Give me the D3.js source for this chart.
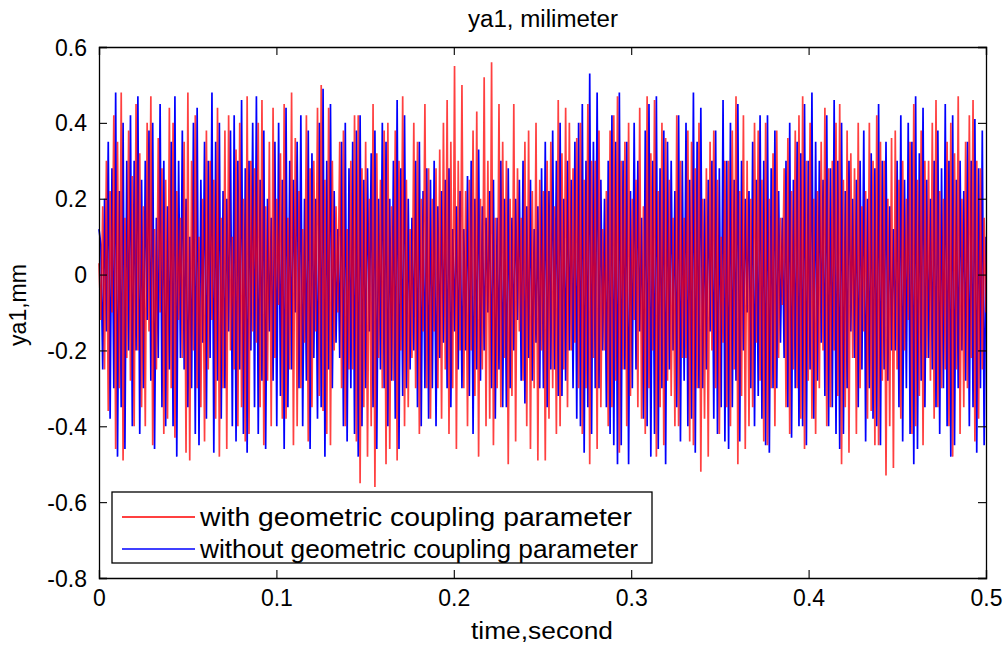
<!DOCTYPE html>
<html>
<head>
<meta charset="utf-8">
<script src="https://cdn.jsdelivr.net/npm/d3@7"></script>
<style>
  html, body { margin: 0; padding: 0; background: #fff; }
  svg { display: block; }
  text { font-family: "Liberation Sans", Arial, sans-serif; fill: #000; }
</style>
</head>
<body>
<svg id="chart" width="1008" height="648"></svg>
<script>
// ---- data (estimated where strokes overlap) ----
const title = "ya1, milimeter";
const xLabel = "time,second";
const yLabel = "ya1,mm";
const seriesNames = ["with geometric coupling parameter", "without geometric coupling parameter"];
const xTicks = [0, 0.1, 0.2, 0.3, 0.4, 0.5];
const yTicks = [0.6, 0.4, 0.2, 0, -0.2, -0.4, -0.6, -0.8];
const tEnd = 0.5;

// with geometric coupling parameter (red)
const withCoupling = [
  0.03,-0.12, 0.18,-0.25, 0.30,-0.36, 0.22,-0.10, 0.42,-0.46, 0.35,-0.30, 0.48,-0.49, 0.15,-0.22, 0.38,-0.28, 0.26,-0.40,
  0.45,-0.20, 0.32,-0.35, 0.18,-0.40, 0.40,-0.15, 0.47,-0.45, 0.12,-0.25, 0.36,-0.10, 0.28,-0.42, 0.25,-0.38, 0.44,-0.30,
  0.40,-0.43, 0.22,-0.12, 0.15,-0.22, 0.35,-0.47, 0.48,-0.49, 0.30,-0.20, 0.42,-0.30, 0.10,-0.35, 0.20,-0.44, 0.38,-0.25,
  0.30,-0.12, 0.25,-0.38, 0.44,-0.48, 0.15,-0.30, 0.38,-0.46, 0.42,-0.20, 0.10,-0.25, 0.33,-0.40, 0.40,-0.35, 0.20,-0.44,
  0.47,-0.42, 0.30,-0.15, 0.28,-0.18, 0.40,-0.35, 0.46,-0.45, 0.18,-0.28, 0.35,-0.40, 0.44,-0.22, 0.20,-0.08, 0.32,-0.38,
  0.45,-0.38, 0.15,-0.25, 0.48,-0.45, 0.36,-0.40, 0.22,-0.30, 0.12,-0.18, 0.42,-0.44, 0.28,-0.35, 0.30,-0.15, 0.44,-0.32,
  0.50,-0.36, 0.25,-0.42, 0.44,-0.45, 0.30,-0.20, 0.18,-0.10, 0.35,-0.30, 0.38,-0.40, 0.12,-0.25, 0.30,-0.25, 0.42,-0.44,
  0.42,-0.55, 0.28,-0.35, 0.35,-0.48, 0.20,-0.40, 0.45,-0.56, 0.32,-0.22, 0.25,-0.30, 0.38,-0.50, 0.40,-0.46, 0.18,-0.28,
  0.38,-0.49, 0.30,-0.20, 0.47,-0.40, 0.25,-0.35, 0.12,-0.22, 0.40,-0.30, 0.35,-0.42, 0.20,-0.15, 0.45,-0.30, 0.28,-0.38,
  0.20,-0.15, 0.28,-0.30, 0.33,-0.38, 0.40,-0.25, 0.46,-0.42, 0.35,-0.30, 0.55,-0.46, 0.30,-0.20, 0.50,-0.30, 0.22,-0.40,
  0.25,-0.20, 0.38,-0.32, 0.43,-0.48, 0.20,-0.25, 0.52,-0.40, 0.30,-0.38, 0.56,-0.45, 0.15,-0.30, 0.45,-0.35, 0.35,-0.22,
  0.30,-0.50, 0.20,-0.32, 0.45,-0.44, 0.28,-0.15, 0.15,-0.28, 0.35,-0.40, 0.38,-0.46, 0.22,-0.30, 0.40,-0.49, 0.25,-0.20,
  0.22,-0.49, 0.30,-0.38, 0.35,-0.30, 0.18,-0.42, 0.46,-0.40, 0.32,-0.25, 0.44,-0.35, 0.40,-0.20, 0.28,-0.18, 0.36,-0.30,
  0.40,-0.42, 0.25,-0.30, 0.45,-0.50, 0.30,-0.22, 0.30,-0.46, 0.38,-0.35, 0.12,-0.20, 0.22,-0.40, 0.38,-0.35, 0.42,-0.28,
  0.47,-0.47, 0.30,-0.25, 0.35,-0.40, 0.40,-0.32, 0.20,-0.12, 0.25,-0.35, 0.44,-0.38, 0.18,-0.42, 0.47,-0.30, 0.32,-0.20,
  0.46,-0.48, 0.22,-0.35, 0.40,-0.45, 0.36,-0.28, 0.25,-0.32, 0.15,-0.40, 0.42,-0.40, 0.30,-0.22, 0.15,-0.22, 0.38,-0.44,
  0.35,-0.45, 0.28,-0.30, 0.40,-0.52, 0.20,-0.38, 0.28,-0.48, 0.35,-0.20, 0.38,-0.30, 0.25,-0.42, 0.10,-0.18, 0.30,-0.35,
  0.30,-0.40, 0.38,-0.25, 0.47,-0.50, 0.22,-0.32, 0.42,-0.46, 0.30,-0.40, 0.20,-0.35, 0.40,-0.18, 0.38,-0.28, 0.25,-0.44,
  0.40,-0.45, 0.20,-0.30, 0.32,-0.40, 0.38,-0.22, 0.15,-0.08, 0.28,-0.35, 0.36,-0.42, 0.22,-0.25, 0.38,-0.30, 0.42,-0.38,
  0.47,-0.46, 0.30,-0.28, 0.40,-0.38, 0.20,-0.42, 0.22,-0.30, 0.35,-0.20, 0.44,-0.40, 0.28,-0.35, 0.30,-0.20, 0.40,-0.32,
  0.45,-0.50, 0.25,-0.35, 0.38,-0.47, 0.32,-0.22, 0.28,-0.42, 0.40,-0.30, 0.18,-0.15, 0.22,-0.38, 0.40,-0.36, 0.30,-0.45,
  0.42,-0.45, 0.35,-0.28, 0.30,-0.53, 0.20,-0.40, 0.36,-0.51, 0.38,-0.25, 0.25,-0.38, 0.30,-0.20, 0.20,-0.12, 0.35,-0.42,
  0.45,-0.40, 0.25,-0.32, 0.38,-0.45, 0.30,-0.22, 0.30,-0.28, 0.40,-0.38, 0.46,-0.35, 0.22,-0.30, 0.20,-0.25, 0.35,-0.40,
  0.40,-0.48, 0.32,-0.25, 0.47,-0.42, 0.20,-0.35, 0.35,-0.30, 0.42,-0.22, 0.46,-0.44, 0.30,-0.38, 0.28,-0.25, 0.15,-0.10
];

// without geometric coupling parameter (blue)
const withoutCoupling = [
  0.12, 0.08,-0.25, 0.20,-0.15, 0.35,-0.38, 0.28,-0.30, 0.48,-0.48, 0.22,-0.35, 0.40,-0.46, 0.30,-0.20, 0.42,-0.40, 0.30,
  -0.20, 0.47,-0.42, 0.25,-0.30, 0.30,-0.12, 0.38,-0.28, 0.40,-0.46, 0.15,-0.22, 0.45,-0.35, 0.30,-0.40, 0.18,-0.25, 0.35,
  -0.40, 0.47,-0.48, 0.30,-0.22, 0.38,-0.25, 0.20,-0.35, 0.10,-0.30, 0.40,-0.42, 0.44,-0.45, 0.25,-0.18, 0.35,-0.38, 0.30,
  -0.22, 0.48,-0.47, 0.35,-0.28, 0.40,-0.38, 0.22,-0.30, 0.20,-0.15, 0.38,-0.40, 0.42,-0.44, 0.30,-0.25, 0.46,-0.42, 0.28,
  -0.47, 0.30,-0.20, 0.40,-0.35, 0.47,-0.42, 0.25,-0.28, 0.38,-0.46, 0.20,-0.15, 0.15,-0.28, 0.35,-0.40, 0.40,-0.32, 0.25,
  -0.46, 0.44,-0.35, 0.30,-0.25, 0.25,-0.10, 0.35,-0.30, 0.42,-0.40, 0.20,-0.28, 0.38,-0.46, 0.32,-0.22, 0.20,-0.38, 0.40,
  -0.35, 0.49,-0.48, 0.30,-0.25, 0.45,-0.30, 0.22,-0.18, 0.12,-0.22, 0.35,-0.40, 0.40,-0.44, 0.28,-0.30, 0.35,-0.42, 0.38,
  -0.48, 0.42,-0.40, 0.25,-0.30, 0.28,-0.15, 0.32,-0.35, 0.38,-0.46, 0.20,-0.25, 0.40,-0.30, 0.35,-0.40, 0.20,-0.28, 0.30,
  -0.38, 0.46,-0.46, 0.28,-0.32, 0.42,-0.30, 0.20,-0.25, 0.15,-0.20, 0.30,-0.35, 0.35,-0.40, 0.22,-0.30, 0.28,-0.38, 0.25,
  -0.30, 0.30,-0.40, 0.18,-0.22, 0.22,-0.18, 0.25,-0.30, 0.28,-0.35, 0.12,-0.15, 0.18,-0.25, 0.22,-0.30, 0.12,-0.20, 0.26,
  -0.32, 0.30,-0.42, 0.20,-0.25, 0.33,-0.28, 0.18,-0.20, 0.15,-0.10, 0.22,-0.30, 0.25,-0.38, 0.15,-0.25, 0.30,-0.35, 0.20,
  -0.35, 0.28,-0.30, 0.15,-0.20, 0.20,-0.12, 0.25,-0.28, 0.30,-0.34, 0.18,-0.22, 0.25,-0.28, 0.12,-0.18, 0.18,-0.30, 0.28,
  -0.30, 0.35,-0.35, 0.22,-0.25, 0.38,-0.25, 0.30,-0.32, 0.40,-0.32, 0.20,-0.28, 0.30,-0.20, 0.25,-0.30, 0.35,-0.38, 0.40,
  -0.40, 0.45,-0.47, 0.30,-0.35, 0.53,-0.42, 0.35,-0.30, 0.48,-0.30, 0.25,-0.20, 0.20,-0.35, 0.30,-0.42, 0.42,-0.45, 0.35,
  -0.50, 0.48,-0.45, 0.30,-0.25, 0.35,-0.50, 0.22,-0.30, 0.40,-0.25, 0.30,-0.15, 0.15,-0.38, 0.38,-0.40, 0.45,-0.48, 0.30,
  -0.42, 0.47,-0.46, 0.28,-0.30, 0.38,-0.50, 0.35,-0.25, 0.30,-0.20, 0.22,-0.35, 0.42,-0.44, 0.30,-0.28, 0.40,-0.40, 0.25,
  -0.38, 0.48,-0.47, 0.35,-0.30, 0.44,-0.30, 0.20,-0.25, 0.25,-0.15, 0.30,-0.38, 0.38,-0.42, 0.28,-0.35, 0.46,-0.44, 0.30,
  -0.46, 0.40,-0.35, 0.25,-0.28, 0.45,-0.44, 0.30,-0.20, 0.20,-0.10, 0.22,-0.30, 0.35,-0.40, 0.25,-0.32, 0.42,-0.38, 0.30,
  -0.45, 0.42,-0.47, 0.28,-0.30, 0.38,-0.30, 0.22,-0.18, 0.15,-0.22, 0.30,-0.35, 0.40,-0.43, 0.25,-0.30, 0.35,-0.40, 0.32,
  -0.40, 0.45,-0.45, 0.30,-0.25, 0.48,-0.38, 0.35,-0.28, 0.30,-0.18, 0.25,-0.32, 0.42,-0.40, 0.28,-0.35, 0.46,-0.42, 0.30,
  -0.46, 0.40,-0.42, 0.22,-0.30, 0.30,-0.15, 0.20,-0.22, 0.25,-0.35, 0.30,-0.25, 0.38,-0.44, 0.20,-0.30, 0.32,-0.38, 0.28,
  -0.40, 0.45,-0.45, 0.30,-0.25, 0.35,-0.28, 0.18,-0.20, 0.12,-0.20, 0.30,-0.35, 0.42,-0.44, 0.25,-0.30, 0.40,-0.42, 0.35,
  -0.50, 0.47,-0.46, 0.32,-0.28, 0.44,-0.35, 0.25,-0.22, 0.20,-0.25, 0.30,-0.35, 0.38,-0.42, 0.28,-0.30, 0.45,-0.40, 0.30,
  -0.48, 0.42,-0.45, 0.25,-0.30, 0.30,-0.20, 0.22,-0.28, 0.35,-0.40, 0.30,-0.35, 0.41,-0.47, 0.28,-0.30, 0.38,-0.45, 0.10
];

const colors = ["#ff0000", "#0000ff"];

// ---- layout ----
const L = 99, R = 986, T = 47, B = 578;
const svg = d3.select("#chart");

const x = d3.scaleLinear().domain([0, 0.5]).range([L, R]);
const y = d3.scaleLinear().domain([-0.8, 0.6]).range([B, T]);

const fmt = d => String(+d.toFixed(1));

// series
function toPoints(vals) {
  const n = vals.length;
  return vals.map((v, i) => [i * tEnd / (n - 1), v]);
}
const line = d3.line().x(d => x(d[0])).y(d => y(d[1]));

const plot = svg.append("g");
plot.append("path")
  .attr("d", line(toPoints(withoutCoupling)))
  .attr("fill", "none").attr("stroke", colors[1]).attr("stroke-width", 1.7)
  .attr("stroke-linejoin", "miter").attr("stroke-miterlimit", 1);
plot.append("path")
  .attr("d", line(toPoints(withCoupling)))
  .attr("fill", "none").attr("stroke", colors[0]).attr("stroke-width", 1.7)
  .attr("stroke-linejoin", "miter").attr("stroke-miterlimit", 1)
  .attr("stroke-opacity", 0.75);

// axes (MATLAB style: box, inward ticks on all sides)
const tickLen = 8;
const axB = svg.append("g").attr("transform", `translate(0,${B})`)
  .call(d3.axisBottom(x).tickValues(xTicks).tickSize(-tickLen).tickPadding(12).tickFormat(fmt));
const axT = svg.append("g").attr("transform", `translate(0,${T})`)
  .call(d3.axisTop(x).tickValues(xTicks).tickSize(-tickLen).tickFormat(""));
const axL = svg.append("g").attr("transform", `translate(${L},0)`)
  .call(d3.axisLeft(y).tickValues(yTicks).tickSize(-tickLen).tickPadding(12).tickFormat(fmt));
const axR = svg.append("g").attr("transform", `translate(${R},0)`)
  .call(d3.axisRight(y).tickValues(yTicks).tickSize(-tickLen).tickFormat(""));

[axB, axT, axL, axR].forEach(a => {
  a.select(".domain").attr("stroke", "#000").attr("stroke-width", 1.3);
  a.selectAll(".tick line").attr("stroke", "#000").attr("stroke-width", 1.1);
  a.selectAll("text").attr("font-family", "Liberation Sans, Arial, sans-serif")
    .attr("font-size", 23).attr("fill", "#000");
});
axB.selectAll(".tick text").attr("dy", "0.71em");
axL.selectAll(".tick text").attr("dy", "0.35em");

// titles
svg.append("text").attr("x", 543).attr("y", 27)
  .attr("text-anchor", "middle").attr("font-size", 23)
  .attr("textLength", 150).attr("lengthAdjust", "spacingAndGlyphs").text(title);
svg.append("text").attr("x", 542).attr("y", 639)
  .attr("text-anchor", "middle").attr("font-size", 23)
  .attr("textLength", 142).attr("lengthAdjust", "spacingAndGlyphs").text(xLabel);
svg.append("text").attr("transform", `translate(26,${305}) rotate(-90)`)
  .attr("text-anchor", "middle").attr("font-size", 23).text(yLabel);

// legend
const lg = svg.append("g");
lg.append("rect").attr("x", 112).attr("y", 492).attr("width", 540).attr("height", 71)
  .attr("fill", "#fff").attr("stroke", "#000").attr("stroke-width", 1.3);
const legendTextLen = [432, 438];
seriesNames.forEach((name, i) => {
  const yy = 517 + i * 32;
  lg.append("line").attr("x1", 122).attr("x2", 195).attr("y1", yy).attr("y2", yy)
    .attr("stroke", colors[i]).attr("stroke-width", 1.5);
  lg.append("text").attr("x", 200).attr("y", yy).attr("dy", "0.35em")
    .attr("font-size", 25)
    .attr("textLength", legendTextLen[i]).attr("lengthAdjust", "spacingAndGlyphs")
    .text(name);
});
</script>
</body>
</html>
